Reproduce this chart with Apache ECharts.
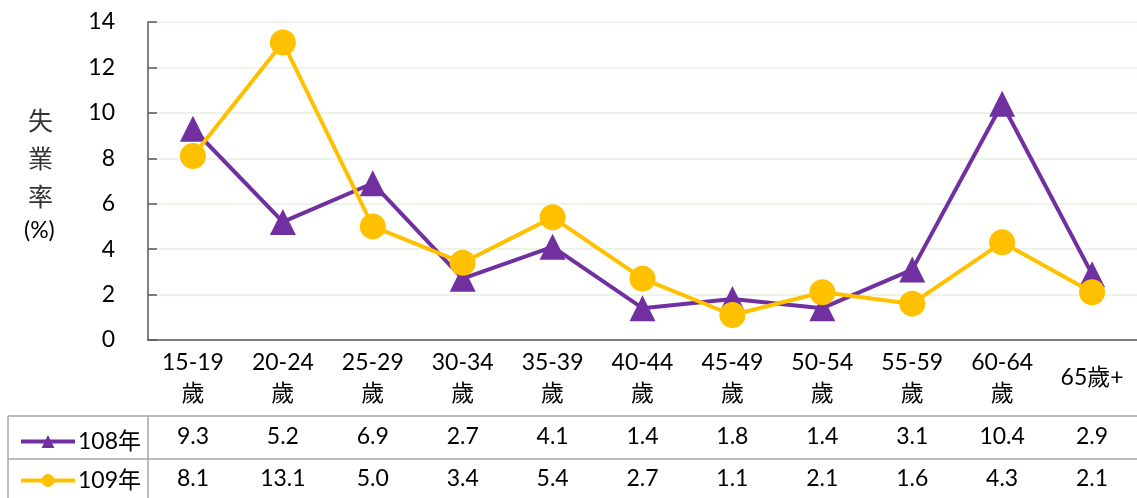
<!DOCTYPE html>
<html>
<head>
<meta charset="utf-8">
<script src="https://cdn.jsdelivr.net/npm/echarts@6/dist/echarts.min.js"></script>
<style>
  html, body { margin: 0; padding: 0; background: #fff; }
  #main { width: 1137px; height: 498px; }
</style>
</head>
<body>
<div id="main"></div>
<script>
// 年齡組別
const ageGroups = ["15-19\n歲", "20-24\n歲", "25-29\n歲", "30-34\n歲", "35-39\n歲", "40-44\n歲",
  "45-49\n歲", "50-54\n歲", "55-59\n歲", "60-64\n歲", "65歲+"];
const seriesNames = ["108年", "109年"];
const rate108 = [9.3, 5.2, 6.9, 2.7, 4.1, 1.4, 1.8, 1.4, 3.1, 10.4, 2.9];
const rate109 = [8.1, 13.1, 5.0, 3.4, 5.4, 2.7, 1.1, 2.1, 1.6, 4.3, 2.1];
const yTicks = [0, 2, 4, 6, 8, 10, 12, 14];

const font = "Lato, 'Noto Sans CJK TC', sans-serif";
const cjk = "'Noto Sans CJK TC', sans-serif";
const fs = 23;
const tableLine = "#a6a6a6";

// 表格的位置
const gridL = 148, gridW = 990, gridT = 22, gridH = 318;
const rowY = [416, 459];

const chart = echarts.init(document.getElementById("main"));

function legendRow(name, top) {
  return {
    orient: "horizontal",
    left: 14,
    top: top,
    itemWidth: 54,
    itemHeight: 16,
    itemGap: 0,
    lineStyle: { width: 4 },
    data: [name],
    textStyle: { fontSize: fs, fontFamily: font, color: "#000", padding: [0, 0, 0, -2] }
  };
}

function rowAxis(margin, values) {
  return {
    type: "category",
    data: ageGroups,
    position: "bottom",
    axisLine: { show: false },
    axisTick: { show: false },
    axisLabel: {
      interval: 0,
      margin: margin,
      verticalAlign: "middle",
      fontSize: fs,
      fontFamily: font,
      color: "#000",
      formatter: (v, i) => values[i].toFixed(1)
    }
  };
}

const option = {
  animation: false,
  grid: { left: gridL, top: gridT, width: gridW, height: gridH },
  legend: [legendRow(seriesNames[0], 425), legendRow(seriesNames[1], 464)],
  xAxis: [
    {
      type: "category",
      data: ageGroups,
      boundaryGap: true,
      axisLine: { lineStyle: { color: "#595959", width: 1.5 } },
      axisTick: { length: 160, lineStyle: { color: tableLine, width: 1.5 } },
      axisLabel: {
        interval: 0,
        margin: 38,
        verticalAlign: "middle",
        lineHeight: 31,
        fontSize: fs,
        fontFamily: font,
        color: "#000"
      }
    },
    rowAxis(97, rate108),
    rowAxis(139, rate109)
  ],
  yAxis: {
    type: "value",
    min: yTicks[0],
    max: yTicks[yTicks.length - 1],
    interval: 2,
    axisLine: { show: true, lineStyle: { color: "#595959", width: 1.5 } },
    axisTick: { show: true, inside: true, length: 9, lineStyle: { color: "#595959", width: 1.5 } },
    splitLine: { lineStyle: { color: "#e6f0e2", width: 1.5 } },
    axisLabel: { margin: 33, fontSize: fs, fontFamily: font, color: "#000" }
  },
  series: [
    {
      name: seriesNames[0],
      type: "line",
      data: rate108,
      symbol: "triangle",
      symbolSize: 26,
      color: "#7030a0",
      lineStyle: { width: 4 },
      z: 2
    },
    {
      name: seriesNames[1],
      type: "line",
      data: rate109,
      symbol: "circle",
      symbolSize: 26,
      color: "#ffc000",
      lineStyle: { width: 4 },
      z: 3
    }
  ],
  graphic: [
    // 縱軸標題
    {
      type: "text",
      left: 28,
      top: 101,
      style: {
        text: "失\n業\n率",
        font: "25px " + cjk,
        lineHeight: 38,
        fill: "#333",
        align: "left"
      }
    },
    {
      type: "text",
      left: 24,
      top: 219,
      style: { text: "(%)", font: fs + "px " + font, fill: "#000" }
    },
    // 表格線
    { type: "line", shape: { x1: 8, y1: rowY[0], x2: gridL + gridW, y2: rowY[0] }, style: { stroke: tableLine, lineWidth: 1.5 } },
    { type: "line", shape: { x1: 8, y1: rowY[1], x2: gridL + gridW, y2: rowY[1] }, style: { stroke: tableLine, lineWidth: 1.5 } },
    { type: "line", shape: { x1: 8, y1: rowY[0], x2: 8, y2: 498 }, style: { stroke: tableLine, lineWidth: 1.5 } },
    { type: "line", shape: { x1: gridL, y1: rowY[0], x2: gridL, y2: 498 }, style: { stroke: tableLine, lineWidth: 1.5 } }
  ]
};

chart.setOption(option);
</script>
</body>
</html>
